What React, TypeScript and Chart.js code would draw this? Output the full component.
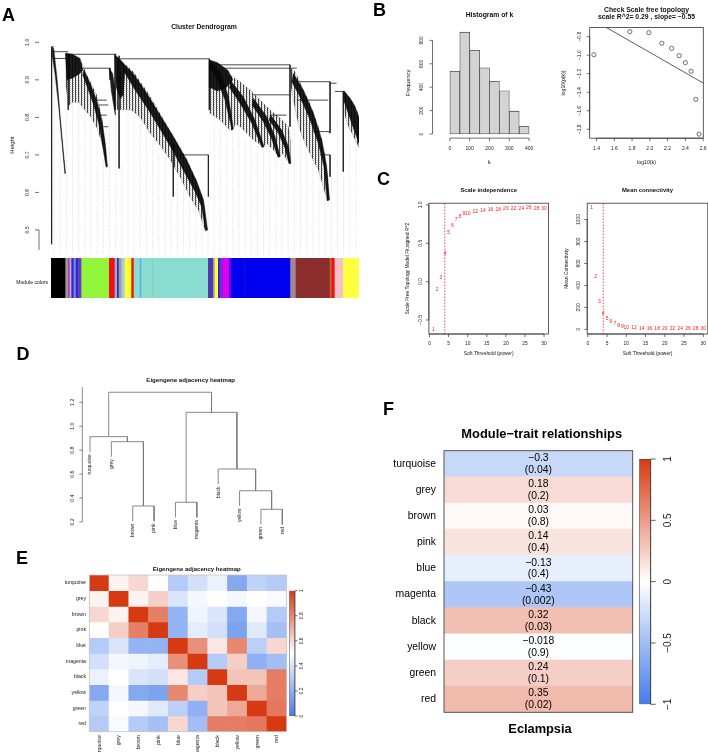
import React, { useEffect, useRef } from 'react';
import { Chart, registerables } from 'chart.js';

Chart.register(...registerables);

const PAGE_W = 708;
const PAGE_H = 752;
const SANS = '"Liberation Sans", Arial, Helvetica, sans-serif';
const UP = -Math.PI / 2;
Chart.defaults.font.family = SANS;

/* ---------- A: gene clustering tree with module colours ---------- */
const heightTicks = [0.5, 0.6, 0.7, 0.8, 0.9, 1.0];
// Visible branches: [leafFrom, heightFrom, leafTo, heightTo], leaves span 0–1000
const geneBranches = [
  [2, 0.988, 2, 0.462], [2, 0.988, 10, 0.988], [5, 0.975, 56, 0.975], [8, 0.957, 51, 0.957],
  [56, 0.968, 213, 0.968], [56, 0.968, 56, 0.82], [100, 0.931, 192, 0.931], [192, 0.931, 192, 0.9],
  [148, 0.846, 181, 0.846], [154, 0.833, 186, 0.833], [159, 0.806, 181, 0.806], [170, 0.775, 186, 0.775],
  [208, 0.968, 208, 0.82], [221, 0.964, 221, 0.664], [224, 0.956, 514, 0.956], [397, 0.731, 397, 0.589],
  [419, 0.7, 511, 0.7], [511, 0.7, 511, 0.589], [514, 0.956, 514, 0.82], [527, 0.94, 776, 0.94],
  [549, 0.931, 776, 0.931], [776, 0.94, 776, 0.775], [657, 0.86, 776, 0.86], [711, 0.806, 765, 0.806],
  [778, 0.931, 798, 0.931], [798, 0.895, 906, 0.895], [906, 0.895, 906, 0.758], [798, 0.846, 900, 0.846],
  [852, 0.762, 906, 0.762], [873, 0.7, 906, 0.7], [906, 0.7, 906, 0.642], [906, 0.891, 927, 0.891],
  [922, 0.869, 949, 0.869], [949, 0.869, 949, 0.655],
];
// Tightly packed merge chains (dark cores), outlined as [leaf, height] polygons
const clusterCores = [
  [[4, 0.987], [9, 0.983], [20, 0.9], [30, 0.8], [40, 0.71], [47, 0.651], [45, 0.65], [36, 0.73], [26, 0.82], [14, 0.91], [5, 0.96]],
  [[47, 0.971], [70, 0.968], [94, 0.957], [103, 0.925], [90, 0.915], [70, 0.905], [52, 0.9]],
  [[107, 0.926], [127, 0.891], [148, 0.846], [165, 0.793], [176, 0.731], [183, 0.669], [179, 0.667], [168, 0.722], [155, 0.784], [137, 0.837], [118, 0.88], [103, 0.913]],
  [[189, 0.931], [200, 0.917], [207, 0.88], [209, 0.806], [204, 0.83], [196, 0.87]],
  [[208, 0.966], [229, 0.95], [240, 0.93], [235, 0.86], [225, 0.85], [212, 0.88]],
  [[229, 0.948], [267, 0.917], [311, 0.864], [354, 0.806], [397, 0.749], [440, 0.687], [473, 0.629], [495, 0.58], [508, 0.5], [502, 0.498], [489, 0.562], [468, 0.602], [435, 0.651], [397, 0.709], [359, 0.762], [316, 0.82], [273, 0.873], [237, 0.922]],
  [[514, 0.953], [540, 0.946], [575, 0.925], [590, 0.9], [570, 0.88], [540, 0.87], [516, 0.88]],
  [[518, 0.95], [549, 0.922], [576, 0.855], [592, 0.771], [588, 0.766], [565, 0.846], [538, 0.904], [514, 0.935]],
  [[581, 0.9], [624, 0.855], [662, 0.793], [692, 0.722], [685, 0.72], [652, 0.784], [614, 0.837], [579, 0.88]],
  [[657, 0.851], [700, 0.802], [727, 0.749], [744, 0.695], [737, 0.694], [716, 0.744], [689, 0.789], [653, 0.833]],
  [[713, 0.806], [749, 0.766], [771, 0.722], [779, 0.678], [773, 0.676], [760, 0.718], [738, 0.758], [708, 0.793]],
  [[787, 0.917], [819, 0.873], [852, 0.811], [879, 0.74], [895, 0.669], [904, 0.58], [897, 0.578], [886, 0.669], [868, 0.731], [839, 0.798], [808, 0.855], [782, 0.895]],
  [[951, 0.871], [971, 0.851], [987, 0.829], [1000, 0.798], [1000, 0.731], [984, 0.766], [965, 0.811], [950, 0.846]],
];
// Looser regions of short leaf stems around the cores
const clusterHalos = [
  [[47, 0.97], [94, 0.957], [118, 0.91], [148, 0.86], [165, 0.8], [183, 0.67], [170, 0.72], [150, 0.77], [130, 0.8], [110, 0.82], [90, 0.84], [70, 0.84], [56, 0.83], [49, 0.88]],
  [[208, 0.966], [229, 0.95], [267, 0.922], [311, 0.87], [354, 0.81], [397, 0.75], [440, 0.69], [473, 0.63], [495, 0.58], [508, 0.5], [500, 0.5], [480, 0.55], [450, 0.59], [420, 0.64], [385, 0.69], [350, 0.73], [320, 0.76], [290, 0.8], [260, 0.82], [235, 0.82], [215, 0.82], [209, 0.86]],
  [[514, 0.953], [532, 0.946], [554, 0.931], [581, 0.913], [614, 0.895], [646, 0.873], [679, 0.846], [711, 0.82], [744, 0.798], [771, 0.775], [778, 0.74], [778, 0.678], [765, 0.687], [754, 0.704], [741, 0.695], [722, 0.713], [700, 0.731], [689, 0.722], [657, 0.74], [635, 0.758], [614, 0.775], [598, 0.784], [592, 0.766], [581, 0.766], [549, 0.793], [516, 0.811]],
  [[778, 0.931], [792, 0.922], [803, 0.904], [819, 0.873], [836, 0.846], [852, 0.811], [868, 0.775], [879, 0.74], [890, 0.695], [898, 0.642], [904, 0.58], [897, 0.578], [884, 0.615], [868, 0.66], [846, 0.695], [825, 0.731], [808, 0.766], [798, 0.802], [787, 0.846], [779, 0.882]],
  [[949, 0.871], [965, 0.855], [982, 0.837], [992, 0.82], [1000, 0.802], [1000, 0.72], [990, 0.735], [979, 0.755], [966, 0.775], [956, 0.8], [950, 0.83]],
];
// Dotted guide lines hanging from the tree
const guideLeaf = [10, 30, 50, 70, 90, 110, 130, 150, 170, 190, 210, 230, 250, 270, 290, 310, 330, 350, 370, 390, 410, 430, 450, 470, 490, 510, 530, 550, 570, 590, 610, 630, 650, 670, 690, 710, 730, 750, 770, 790, 810, 830, 850, 870, 890, 910, 930, 950, 970, 990];
const guideTop = [0.909, 0.775, 0.82, 0.846, 0.846, 0.82, 0.793, 0.74, 0.687, 0.793, 0.82, 0.669, 0.82, 0.82, 0.846, 0.784, 0.74, 0.722, 0.722, 0.58, 0.695, 0.66, 0.633, 0.607, 0.562, 0.58, 0.811, 0.811, 0.775, 0.757, 0.775, 0.74, 0.757, 0.722, 0.722, 0.731, 0.695, 0.687, 0.678, 0.846, 0.82, 0.793, 0.766, 0.722, 0.616, 0.651, 0.82, 0.651, 0.775, 0.74];
const guideFoot = 0.433;
// Module colour strip: [leafFrom, leafTo, colour]
const moduleStrip = [
  [0, 47.6, '#000000'], [47.6, 56.3, '#9a9a9a'], [56.3, 61.7, '#b040b0'], [61.7, 67, '#e8a0c0'],
  [67, 74.7, '#2030e0'], [74.7, 81.2, '#8a8ac8'], [81.2, 88.7, '#2030e0'], [88.7, 99.6, '#6a3ac0'],
  [99.6, 189.4, '#93f43c'], [189.4, 207.8, '#f01010'], [207.8, 215.4, '#a8a8c8'], [215.4, 220.8, '#2030e0'],
  [220.8, 229.4, '#9a9a9a'], [229.4, 240.3, '#a8ccd8'], [240.3, 261.9, '#ffff33'], [261.9, 269.5, '#f01010'],
  [269.5, 289, '#88ddd0'], [289, 294.4, '#6aaee0'], [294.4, 329, '#88ddd0'], [329, 331, '#9ab8b0'],
  [331, 510.8, '#88ddd0'], [510.8, 527, '#5038b0'], [527, 532.5, '#9a9a9a'], [532.5, 543.3, '#ffff33'],
  [543.3, 548.7, '#2030e0'], [548.7, 559.5, '#8a20d8'], [559.5, 579, '#e000f0'], [579, 586.6, '#5a10e0'],
  [586.6, 629, '#0000f0'], [629, 631, '#2020a0'], [631, 778, '#0000f0'], [778, 795.5, '#a08890'],
  [795.5, 905.8, '#8c2d2d'], [905.8, 912.3, '#c06030'], [912.3, 922, '#f01010'], [922, 949, '#f2c0cb'],
  [949, 1000, '#ffff40'],
];

/* ---------- B: connectivity distribution ---------- */
const kBinMid = [25, 75, 125, 175, 225, 275, 325, 375];
const kFreq = [535, 870, 715, 565, 450, 370, 195, 65];
const kTicks = [0, 100, 200, 300, 400];
const freqTicks = [0, 200, 400, 600, 800];
const logK = [1.37, 1.775, 1.99, 2.135, 2.245, 2.33, 2.4, 2.465, 2.518, 2.555];
const logPk = [-0.995, -0.746, -0.757, -0.871, -0.926, -1.005, -1.08, -1.174, -1.477, -1.852];
const fitX = [1.3, 2.62];
const fitY = [-0.585, -1.311];
const logKTicks = [1.4, 1.6, 1.8, 2.0, 2.2, 2.4, 2.6];
const logPkTicks = [-1.8, -1.6, -1.4, -1.2, -1.0, -0.8];

/* ---------- C: soft-threshold selection ---------- */
const powers = [1, 2, 3, 4, 5, 6, 7, 8, 9, 10, 12, 14, 16, 18, 20, 22, 24, 26, 28, 30];
const sftFit = [-0.62, -0.11, 0.056, 0.37, 0.64, 0.735, 0.81, 0.85, 0.89, 0.89, 0.91, 0.926, 0.944, 0.944, 0.948, 0.948, 0.955, 0.96, 0.955, 0.955];
const meanK = [1105, 478, 251, 145, 100, 69, 48, 33, 24, 18, 12, 9, 7, 6, 5, 4, 4, 3, 3, 3];
const chosenPower = 4;
const powerTicks = [0, 5, 10, 15, 20, 25, 30];
const fitTicks = [-0.5, 0, 0.5, 1];
const meanKTicks = [0, 200, 400, 600, 800, 1000];

/* ---------- D: eigengene tree ---------- */
const eigenLeaves = ['turquoise', 'grey', 'brown', 'pink', 'blue', 'magenta', 'black', 'yellow', 'green', 'red'];
// hclust-style merges: negative = leaf number, positive = earlier merge
const eigenMerge = [[-9, -10], [-3, -4], [-5, -6], [-8, 1], [-7, 4], [-2, 2], [-1, 6], [3, 5], [7, 8]];
const eigenHeight = [0.306, 0.334, 0.365, 0.461, 0.643, 0.871, 0.913, 1.116, 1.284];
const eigenHang = 0.127;
const treeTicks = [0.2, 0.4, 0.6, 0.8, 1.0, 1.2];

/* ---------- E: eigengene adjacency ---------- */
const eigenAdj = [
  [1, 0.53, 0.6, 0.5, 0.3, 0.38, 0.45, 0.17, 0.33, 0.3],
  [0.53, 1, 0.53, 0.62, 0.4, 0.47, 0.5, 0.47, 0.5, 0.48],
  [0.6, 0.53, 1, 0.82, 0.21, 0.46, 0.4, 0.17, 0.47, 0.3],
  [0.5, 0.62, 0.82, 1, 0.21, 0.43, 0.38, 0.15, 0.42, 0.26],
  [0.3, 0.4, 0.21, 0.21, 1, 0.78, 0.56, 0.8, 0.32, 0.6],
  [0.38, 0.47, 0.46, 0.43, 0.78, 1, 0.3, 0.62, 0.2, 0.25],
  [0.45, 0.5, 0.4, 0.38, 0.56, 0.3, 1, 0.65, 0.65, 0.83],
  [0.17, 0.47, 0.17, 0.15, 0.8, 0.62, 0.65, 1, 0.72, 0.83],
  [0.33, 0.5, 0.47, 0.42, 0.32, 0.2, 0.65, 0.72, 1, 0.84],
  [0.3, 0.48, 0.3, 0.26, 0.6, 0.25, 0.83, 0.83, 0.84, 1],
];
const adjTicks = [0, 0.2, 0.4, 0.6, 0.8, 1];

/* ---------- F: module–trait correlation ---------- */
const traitModules = ['turquoise', 'grey', 'brown', 'pink', 'blue', 'magenta', 'black', 'yellow', 'green', 'red'];
const traitCor = [-0.3, 0.18, 0.03, 0.14, -0.13, -0.43, 0.32, -0.018, 0.24, 0.35];
const traitP = ['0.04', '0.2', '0.8', '0.4', '0.4', '0.002', '0.03', '0.9', '0.1', '0.02'];
const corTicks = [-1, -0.5, 0, 0.5, 1];

/* ---------- helpers ---------- */
const COLD = [68, 124, 234];
const HOT = [215, 57, 18];
const PAPER = [255, 255, 255];
function mix(a: number[], b: number[], f: number) {
  return `rgb(${a.map((v, i) => Math.round(v + (b[i] - v) * f)).join(',')})`;
}
function divColor(t: number) {
  const f = Math.min(1, Math.abs(t));
  return mix(PAPER, t < 0 ? COLD : HOT, f);
}
function keyGradient(c: any) {
  const chart = c.chart;
  const a = chart.chartArea;
  if (!a) return '#ffffff';
  const g = chart.ctx.createLinearGradient(0, a.bottom, 0, a.top);
  g.addColorStop(0, mix(COLD, COLD, 0));
  g.addColorStop(0.5, '#ffffff');
  g.addColorStop(1, mix(HOT, HOT, 0));
  return g;
}
// Fine vertical hatching standing in for the many hanging leaf stems
function stemPattern() {
  const tile = document.createElement('canvas');
  tile.width = 3;
  tile.height = 2;
  const t = tile.getContext('2d') as CanvasRenderingContext2D;
  t.fillStyle = 'rgba(15,15,15,0.78)';
  t.fillRect(0, 0, 1, 2);
  t.fillStyle = 'rgba(15,15,15,0.3)';
  t.fillRect(1, 0, 1, 1);
  t.fillStyle = 'rgba(15,15,15,0.12)';
  t.fillRect(2, 1, 1, 1);
  const p = t.createPattern(tile, 'repeat');
  return p || 'rgba(20,20,20,0.4)';
}
const fmt = (v: number, d: number) => v.toFixed(d).replace('-', '\u2212');
const plain = (v: number) => String(v).replace('-', '\u2212');

function txt(ctx: any, s: string, x: number, y: number, size: number, o: any = {}) {
  ctx.save();
  ctx.font = `${o.bold ? 'bold ' : ''}${size}px ${SANS}`;
  ctx.fillStyle = o.color || '#111';
  ctx.textAlign = o.align || 'center';
  ctx.textBaseline = o.baseline || 'middle';
  ctx.translate(x, y);
  if (o.rot) ctx.rotate(o.rot);
  ctx.fillText(s, 0, 0);
  ctx.restore();
}
function axisLeft(ctx: any, scale: any, x: number, ticks: number[], label: (v: number) => string, o: any = {}) {
  const { len = 3, gap = 9, size = 5, from, to, side = -1 } = o;
  const ys = ticks.map((t) => scale.getPixelForValue(t));
  const a = from != null ? scale.getPixelForValue(from) : ys[0];
  const b = to != null ? scale.getPixelForValue(to) : ys[ys.length - 1];
  ctx.save();
  ctx.strokeStyle = o.color || '#333';
  ctx.lineWidth = 0.7;
  ctx.beginPath();
  ctx.moveTo(x, a);
  ctx.lineTo(x, b);
  ys.forEach((y) => { ctx.moveTo(x, y); ctx.lineTo(x + side * len, y); });
  ctx.stroke();
  ctx.restore();
  ticks.forEach((t, i) => txt(ctx, label(t), x + side * gap, ys[i], size, { rot: UP, color: '#222' }));
}
function axisBottom(ctx: any, scale: any, y: number, ticks: number[], label: (v: number) => string, o: any = {}) {
  const { len = 3, gap = 10, size = 5 } = o;
  const xs = ticks.map((t) => scale.getPixelForValue(t));
  ctx.save();
  ctx.strokeStyle = '#333';
  ctx.lineWidth = 0.7;
  ctx.beginPath();
  ctx.moveTo(xs[0], y);
  ctx.lineTo(xs[xs.length - 1], y);
  xs.forEach((x) => { ctx.moveTo(x, y); ctx.lineTo(x, y + len); });
  ctx.stroke();
  ctx.restore();
  ticks.forEach((t, i) => txt(ctx, label(t), xs[i], y + gap, size, { color: '#222' }));
}
function box(ctx: any, a: any, color = '#333', w = 0.8) {
  ctx.save();
  ctx.strokeStyle = color;
  ctx.lineWidth = w;
  ctx.strokeRect(a.left, a.top, a.right - a.left, a.bottom - a.top);
  ctx.restore();
}
function segPoints(segs: number[][]) {
  const out: any[] = [];
  segs.forEach(([x1, y1, x2, y2]) => { out.push({ x: x1, y: y1 }, { x: x2, y: y2 }, { x: x2, y: null }); });
  return out;
}
function polygonSet(polys: number[][][], fillColor: any, edge: string, w: number) {
  return polys.map((poly) => ({
    data: poly.concat([poly[0]]).map(([x, y]) => ({ x, y })),
    fill: 'shape', backgroundColor: fillColor, borderColor: edge, borderWidth: w, pointRadius: 0,
  }));
}
function frame(l: number, t: number, r: number, b: number, extra: any = {}) {
  const { plugins, ...rest } = extra;
  return {
    responsive: false,
    animation: false,
    events: [],
    layout: { padding: { left: l, top: t, right: PAGE_W - r, bottom: PAGE_H - b } },
    ...rest,
    plugins: { legend: { display: false }, tooltip: { enabled: false }, ...(plugins || {}) },
  };
}
const lin = (min: number, max: number, extra: any = {}) => ({ type: 'linear', min, max, display: false, ...extra });
const panelLetter = (ctx: any, s: string, x: number, y: number) => txt(ctx, s, x, y, 18, { bold: true, color: '#000', align: 'left', baseline: 'alphabetic' });

function eigenTree() {
  const nodeX: number[] = [];
  const segs: number[][] = [];
  const leafFoot: number[] = [];
  eigenMerge.forEach(([a, b], k) => {
    const h = eigenHeight[k];
    const xa = a < 0 ? -a : nodeX[a - 1];
    const xb = b < 0 ? -b : nodeX[b - 1];
    const ya = a < 0 ? h - eigenHang : eigenHeight[a - 1];
    const yb = b < 0 ? h - eigenHang : eigenHeight[b - 1];
    if (a < 0) leafFoot[-a - 1] = ya;
    if (b < 0) leafFoot[-b - 1] = yb;
    segs.push([xa, ya, xa, h], [xa, h, xb, h], [xb, h, xb, yb]);
    nodeX[k] = (xa + xb) / 2;
  });
  return { segs, leafFoot };
}

/* ---------- chart configurations ---------- */
function configs(): any[] {
  const tree = eigenTree();
  const bar1 = { barPercentage: 1, categoryPercentage: 1, borderWidth: 0 };

  const geneTree = {
    type: 'line',
    data: {
      datasets: [
        ...polygonSet(clusterCores, 'rgba(10,10,10,0.92)', 'rgba(10,10,10,0.95)', 0.5),
        { data: segPoints(geneBranches), borderColor: '#1c1c1c', borderWidth: 0.8, pointRadius: 0, fill: false },
        ...polygonSet(clusterHalos, stemPattern(), 'rgba(20,20,20,0.3)', 0.5),
        { data: segPoints(guideLeaf.map((x, i) => [x, guideTop[i], x, guideFoot])), borderColor: '#c8c8c8', borderWidth: 0.6, borderDash: [1, 1.5], pointRadius: 0, fill: false },
      ],
    },
    options: frame(51, 42.3, 359, 256, { scales: { x: lin(0, 1000), y: lin(0.4306, 1.0) }, plugins: { filler: { drawTime: 'beforeDatasetDraw' } } }),
    plugins: [{
      id: 'geneTreeDecor',
      afterDraw(chart: any) {
        const ctx = chart.ctx;
        panelLetter(ctx, 'A', 2, 20.5);
        txt(ctx, 'Cluster Dendrogram', 204, 27, 6.8, { bold: true });
        axisLeft(ctx, chart.scales.y, 39, heightTicks, (v) => fmt(v, 1), { len: 4, gap: 11.7, size: 5.2, to: 0.447 });
        txt(ctx, 'Height', 12, 145, 6, { rot: UP });
        txt(ctx, 'Module colors', 48, 283, 5.1, { align: 'right' });
      },
    }],
  };

  const strip = {
    type: 'bar',
    data: {
      labels: ['Module colors'],
      datasets: [{ data: moduleStrip.map((s) => ({ x: [s[0], s[1]], y: 'Module colors' })), backgroundColor: moduleStrip.map((s) => s[2]), ...bar1 }],
    },
    options: frame(51, 258, 359, 298, { indexAxis: 'y', scales: { x: lin(0, 1000), y: { type: 'category', display: false } } }),
  };

  const hist = {
    type: 'bar',
    data: { datasets: [{ data: kBinMid.map((x, i) => ({ x, y: kFreq[i] })), backgroundColor: '#d3d3d3', borderColor: '#4d4d4d', borderWidth: 0.8, borderSkipped: false, barPercentage: 1, categoryPercentage: 1 }] },
    options: frame(432.5, 28.1, 546.5, 138.1, {
      scales: {
        x: lin(-16, 416, { afterBuildTicks: (ax: any) => { ax.ticks = kBinMid.map((v) => ({ value: v })); } }),
        y: lin(-35, 905),
      },
    }),
    plugins: [{
      id: 'histDecor',
      afterDraw(chart: any) {
        const ctx = chart.ctx;
        const a = chart.chartArea;
        panelLetter(ctx, 'B', 373, 16);
        txt(ctx, 'Histogram of k', 489.5, 15, 6.8, { bold: true });
        axisLeft(ctx, chart.scales.y, a.left, freqTicks, (v) => String(v), { gap: 10.8, size: 5 });
        axisBottom(ctx, chart.scales.x, a.bottom, kTicks, (v) => String(v), { gap: 10.9, size: 5 });
        txt(ctx, 'Frequency', 408, 83, 5.6, { rot: UP });
        txt(ctx, 'k', 489.5, 162.3, 5.6);
      },
    }],
  };

  const scaleFree = {
    type: 'line',
    data: {
      datasets: [
        { data: logK.map((x, i) => ({ x, y: logPk[i] })), showLine: false, pointRadius: 2.1, pointBorderWidth: 0.7, pointBorderColor: '#333', pointBackgroundColor: 'rgba(0,0,0,0)' },
        { data: fitX.map((x, i) => ({ x, y: fitY[i] })), borderColor: '#333', borderWidth: 0.8, pointRadius: 0 },
      ],
    },
    options: frame(589.7, 27.6, 703.3, 138.2, { scales: { x: lin(1.323, 2.602), y: lin(-1.896, -0.702) } }),
    plugins: [{
      id: 'scaleFreeDecor',
      afterDraw(chart: any) {
        const ctx = chart.ctx;
        const a = chart.chartArea;
        box(ctx, a);
        axisLeft(ctx, chart.scales.y, a.left, logPkTicks, (v) => fmt(v, 1), { gap: 10.4, size: 5 });
        axisBottom(ctx, chart.scales.x, a.bottom, logKTicks, (v) => fmt(v, 1), { gap: 10.8, size: 5 });
        txt(ctx, 'Check Scale free topology', 646.5, 10, 6.8, { bold: true });
        txt(ctx, 'scale R^2= 0.29 , slope= \u22120.55', 646.5, 17.6, 6.8, { bold: true });
        txt(ctx, 'log10(p(k))', 563.3, 83, 5.2, { rot: UP });
        txt(ctx, 'log10(k)', 646.5, 163, 5.2);
      },
    }],
  };

  const powerChart = (values: number[], l: number, r: number, ymin: number, ymax: number, yTicks: number[], yFmt: (v: number) => string, title: string, ylab: string, letter: boolean) => ({
    type: 'line',
    data: {
      datasets: [
        { data: powers.map((x, i) => ({ x, y: values[i] })), showLine: false, pointRadius: 0 },
        { data: [{ x: chosenPower, y: ymin }, { x: chosenPower, y: ymax }], borderColor: '#ff0000', borderWidth: 0.7, borderDash: [1.5, 1.5], pointRadius: 0 },
      ],
    },
    options: frame(l, 203.2, r, 334, { scales: { x: lin(-0.16, 31.16), y: lin(ymin, ymax) } }),
    plugins: [{
      id: 'powerDecor',
      afterDraw(chart: any) {
        const ctx = chart.ctx;
        const a = chart.chartArea;
        const cx = (a.left + a.right) / 2;
        box(ctx, a);
        chart.getDatasetMeta(0).data.forEach((p: any, i: number) => txt(ctx, String(powers[i]), p.x, p.y, 5, { color: '#ff1a1a' }));
        axisLeft(ctx, chart.scales.y, a.left, yTicks, yFmt, { gap: 8.6, size: 4.9 });
        axisBottom(ctx, chart.scales.x, a.bottom, powerTicks, (v) => String(v), { gap: 10, size: 4.9 });
        txt(ctx, title, cx, 190.7, 5.9, { bold: true });
        txt(ctx, ylab, a.left - 21, 268.6, 4.9, { rot: UP });
        txt(ctx, 'Soft Threshold (power)', cx, 354, 4.9);
        if (letter) panelLetter(ctx, 'C', 377, 185);
      },
    }],
  });

  const eigenDendro = {
    type: 'line',
    data: { datasets: [{ data: segPoints(tree.segs), borderColor: '#7a7a7a', borderWidth: 0.9, pointRadius: 0, fill: false }] },
    options: frame(82.3, 387.1, 290, 529.3, { scales: { x: lin(0.64, 10.36), y: lin(0.139, 1.327) } }),
    plugins: [{
      id: 'eigenDendroDecor',
      afterDraw(chart: any) {
        const ctx = chart.ctx;
        const a = chart.chartArea;
        panelLetter(ctx, 'D', 16.5, 360);
        txt(ctx, 'Eigengene adjacency heatmap', 190.7, 380.7, 6.1, { bold: true });
        axisLeft(ctx, chart.scales.y, a.left, treeTicks, (v) => fmt(v, 1), { gap: 9.6, size: 5.2, color: '#555', to: 1.327 });
        eigenLeaves.forEach((name, i) => {
          const x = chart.scales.x.getPixelForValue(i + 1);
          const y = chart.scales.y.getPixelForValue(tree.leafFoot[i]) + 2.5;
          txt(ctx, name, x, y, 4.9, { rot: UP, align: 'right', color: '#222' });
        });
      },
    }],
  };

  const adjHeat = {
    type: 'bar',
    data: {
      labels: eigenLeaves,
      datasets: eigenAdj.map((row, r) => ({ data: row.map(() => [r, r + 1]), backgroundColor: row.map((v) => divColor(2 * v - 1)), grouped: false, ...bar1 })),
    },
    options: frame(89.3, 575, 286.7, 731.7, { scales: { x: { type: 'category', display: false }, y: lin(0, 10, { reverse: true }) } }),
    plugins: [{
      id: 'adjHeatDecor',
      afterDraw(chart: any) {
        const ctx = chart.ctx;
        const a = chart.chartArea;
        box(ctx, a, '#c4c4c4', 0.8);
        panelLetter(ctx, 'E', 16, 563.5);
        txt(ctx, 'Eigengene adjacency heatmap', 196.7, 569, 6.05, { bold: true });
        eigenLeaves.forEach((name, i) => {
          const y = chart.scales.y.getPixelForValue(i + 0.5);
          txt(ctx, name, a.left - 3.3, y, 5.2, { align: 'right', color: '#222' });
          const x = chart.scales.x.getPixelForValue(i);
          txt(ctx, name, x, a.bottom + 3.5, 5.2, { rot: UP, align: 'right', color: '#222' });
        });
      },
    }],
  };

  const adjKey = {
    type: 'bar',
    data: { labels: ['key'], datasets: [{ data: [[0, 1]], backgroundColor: keyGradient, borderColor: '#555', borderWidth: 0.7, borderSkipped: false, barPercentage: 1, categoryPercentage: 1 }] },
    options: frame(289.3, 590.7, 295, 716, { scales: { x: { type: 'category', display: false }, y: lin(0, 1) } }),
    plugins: [{
      id: 'adjKeyDecor',
      afterDraw(chart: any) {
        const a = chart.chartArea;
        axisLeft(chart.ctx, chart.scales.y, a.right, adjTicks, plain, { side: 1, len: 2.5, gap: 6.7, size: 5 });
      },
    }],
  };

  const traitHeat = {
    type: 'bar',
    data: { labels: traitModules, datasets: [{ data: traitCor.map(() => [0, 1]), backgroundColor: traitCor.map(divColor), ...bar1 }] },
    options: frame(444, 450.7, 632.7, 712.3, { indexAxis: 'y', scales: { x: lin(0, 1), y: { type: 'category', display: false } } }),
    plugins: [{
      id: 'traitHeatDecor',
      afterDraw(chart: any) {
        const ctx = chart.ctx;
        const a = chart.chartArea;
        const cx = (a.left + a.right) / 2;
        box(ctx, a, '#444', 0.9);
        panelLetter(ctx, 'F', 383, 415);
        txt(ctx, 'Module\u2212trait relationships', 541.7, 434, 12.9, { bold: true, color: '#000' });
        chart.getDatasetMeta(0).data.forEach((bar: any, i: number) => {
          txt(ctx, traitModules[i], a.left - 8, bar.y, 10.4, { align: 'right', color: '#000' });
          txt(ctx, plain(traitCor[i]), cx, bar.y - 5.7, 10.4, { color: '#000' });
          txt(ctx, `(${traitP[i]})`, cx, bar.y + 6.2, 10.4, { color: '#000' });
        });
        txt(ctx, 'Eclampsia', 540, 729.3, 12.8, { bold: true, color: '#000' });
      },
    }],
  };

  const traitKey = {
    type: 'bar',
    data: { labels: ['key'], datasets: [{ data: [[-1, 1]], backgroundColor: keyGradient, borderColor: '#444', borderWidth: 0.8, borderSkipped: false, barPercentage: 1, categoryPercentage: 1 }] },
    options: frame(639.3, 459, 650.7, 704.3, { scales: { x: { type: 'category', display: false }, y: lin(-1, 1) } }),
    plugins: [{
      id: 'traitKeyDecor',
      afterDraw(chart: any) {
        const a = chart.chartArea;
        axisLeft(chart.ctx, chart.scales.y, a.right, corTicks, plain, { side: 1, len: 5, gap: 17.6, size: 10, color: '#222' });
      },
    }],
  };

  return [
    geneTree, strip, hist, scaleFree,
    powerChart(sftFit, 428.9, 548.5, -0.683, 1.023, fitTicks, (v) => fmt(v, 1), 'Scale independence', 'Scale Free Topology Model Fit,signed R^2', true),
    powerChart(meanK, 587.2, 707.8, -42, 1149, meanKTicks, (v) => String(v), 'Mean connectivity', 'Mean Connectivity', false),
    eigenDendro, adjHeat, adjKey, traitHeat, traitKey,
  ];
}

const PANEL_COUNT = 11;

export default function App() {
  const canvases = useRef<(HTMLCanvasElement | null)[]>([]);
  useEffect(() => {
    const list = configs();
    const charts = list.map((cfg, i) => new Chart(canvases.current[i] as HTMLCanvasElement, cfg));
    return () => charts.forEach((c) => c.destroy());
  }, []);
  return (
    <div style={{ position: 'absolute', left: 0, top: 0, width: PAGE_W, height: PAGE_H, background: '#ffffff', overflow: 'hidden' }}>
      {Array.from({ length: PANEL_COUNT }).map((_, i) => (
        <canvas
          key={i}
          ref={(el) => { canvases.current[i] = el; }}
          width={PAGE_W}
          height={PAGE_H}
          style={{ position: 'absolute', left: 0, top: 0, width: PAGE_W, height: PAGE_H }}
        />
      ))}
    </div>
  );
}
